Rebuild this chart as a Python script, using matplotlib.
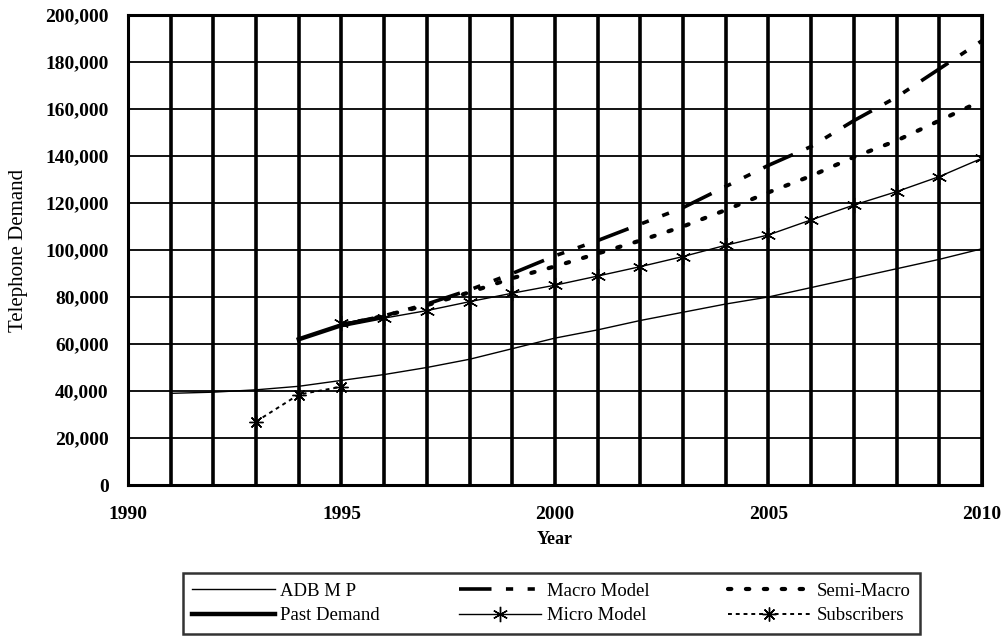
import matplotlib
matplotlib.use("Agg")
import matplotlib.pyplot as plt
from matplotlib.ticker import FuncFormatter, MultipleLocator

# ---- data ----
adb_years = list(range(1991, 2011))
adb_vals = [39000, 39500, 40500, 42000, 44500, 47000, 50000, 53500, 58000, 62500,
            66000, 70000, 73500, 77000, 80000, 84000, 88000, 92000, 96000, 100500]

past_years = [1994, 1995, 1996]
past_vals = [62000, 68000, 71500]

model_years = list(range(1995, 2011))
macro_vals = [68000, 72000, 77000, 83000, 90000, 97500, 104000, 111000, 118000, 127000,
              136000, 144000, 155000, 165000, 177000, 189000]
semi_vals = [68000, 72000, 76500, 82000, 88000, 93000, 98500, 104000, 110000, 117000,
             124500, 131500, 139500, 146500, 155000, 163500]
micro_vals = [69000, 71000, 74200, 78000, 81600, 85000, 88900, 92900, 97200, 102000,
              106400, 112800, 119100, 124800, 131200, 139000]

subs_years = [1993, 1994, 1995]
subs_vals = [27000, 38500, 41800]

plt.rcParams['font.family'] = ['Liberation Serif', 'DejaVu Serif']

fig = plt.figure(figsize=(10.04, 6.37), dpi=100)
ax = fig.add_axes([0.1275, 0.2386, 0.8505, 0.738])

ax.plot(adb_years, adb_vals, color='black', lw=1.0, label='ADB M P')
ax.plot(past_years, past_vals, color='black', lw=3.2, label='Past Demand')
ax.plot(model_years, macro_vals, color='black', lw=2.6,
        dashes=(9, 4, 2, 4, 2, 4), label='Macro Model')
ax.plot(model_years, micro_vals, color='black', lw=1.0, marker=(6, 2, 0),
        ms=11, mew=1.0, label='Micro Model')
ax.plot(model_years, semi_vals, color='black', lw=3.0,
        dashes=(0.8, 3.5), dash_capstyle='round', label='Semi-Macro')
ax.plot(subs_years, subs_vals, color='black', lw=1.4, ls=(0, (2, 2)),
        marker=(8, 2, 0), ms=10, mew=1.0, label='Subscribers')

ax.set_xlim(1990, 2010)
ax.set_ylim(0, 200000)
ax.xaxis.set_major_locator(MultipleLocator(5))
ax.xaxis.set_minor_locator(MultipleLocator(1))
ax.yaxis.set_major_locator(MultipleLocator(20000))
ax.yaxis.set_major_formatter(FuncFormatter(lambda v, p: f"{int(v):,}"))

ax.grid(True, which='both', axis='x', color='black', lw=2.6)
ax.grid(True, which='major', axis='y', color='black', lw=1.3)
ax.set_axisbelow(True)
for s in ax.spines.values():
    s.set_linewidth(2.2)

ax.tick_params(axis='both', which='both', length=0, labelsize=14)
ax.tick_params(axis='x', pad=15)
ax.tick_params(axis='y', pad=14)
for lab in ax.get_xticklabels() + ax.get_yticklabels():
    lab.set_fontweight('bold')

ax.set_xlabel('Year', fontsize=13, fontweight='bold', labelpad=6)
ax.set_ylabel('Telephone Demand', fontsize=15, labelpad=12)

leg = fig.legend(loc='center', bbox_to_anchor=(0.549, 0.0526), ncol=3,
                 frameon=True, fancybox=False, edgecolor='black',
                 prop={'family': 'Liberation Serif', 'size': 13.5},
                 handlelength=4.4, columnspacing=4.2,
                 borderpad=0.5, labelspacing=0.4, handletextpad=0.3)
leg.get_frame().set_linewidth(1.8)

fig.savefig('out.png', dpi=100)
